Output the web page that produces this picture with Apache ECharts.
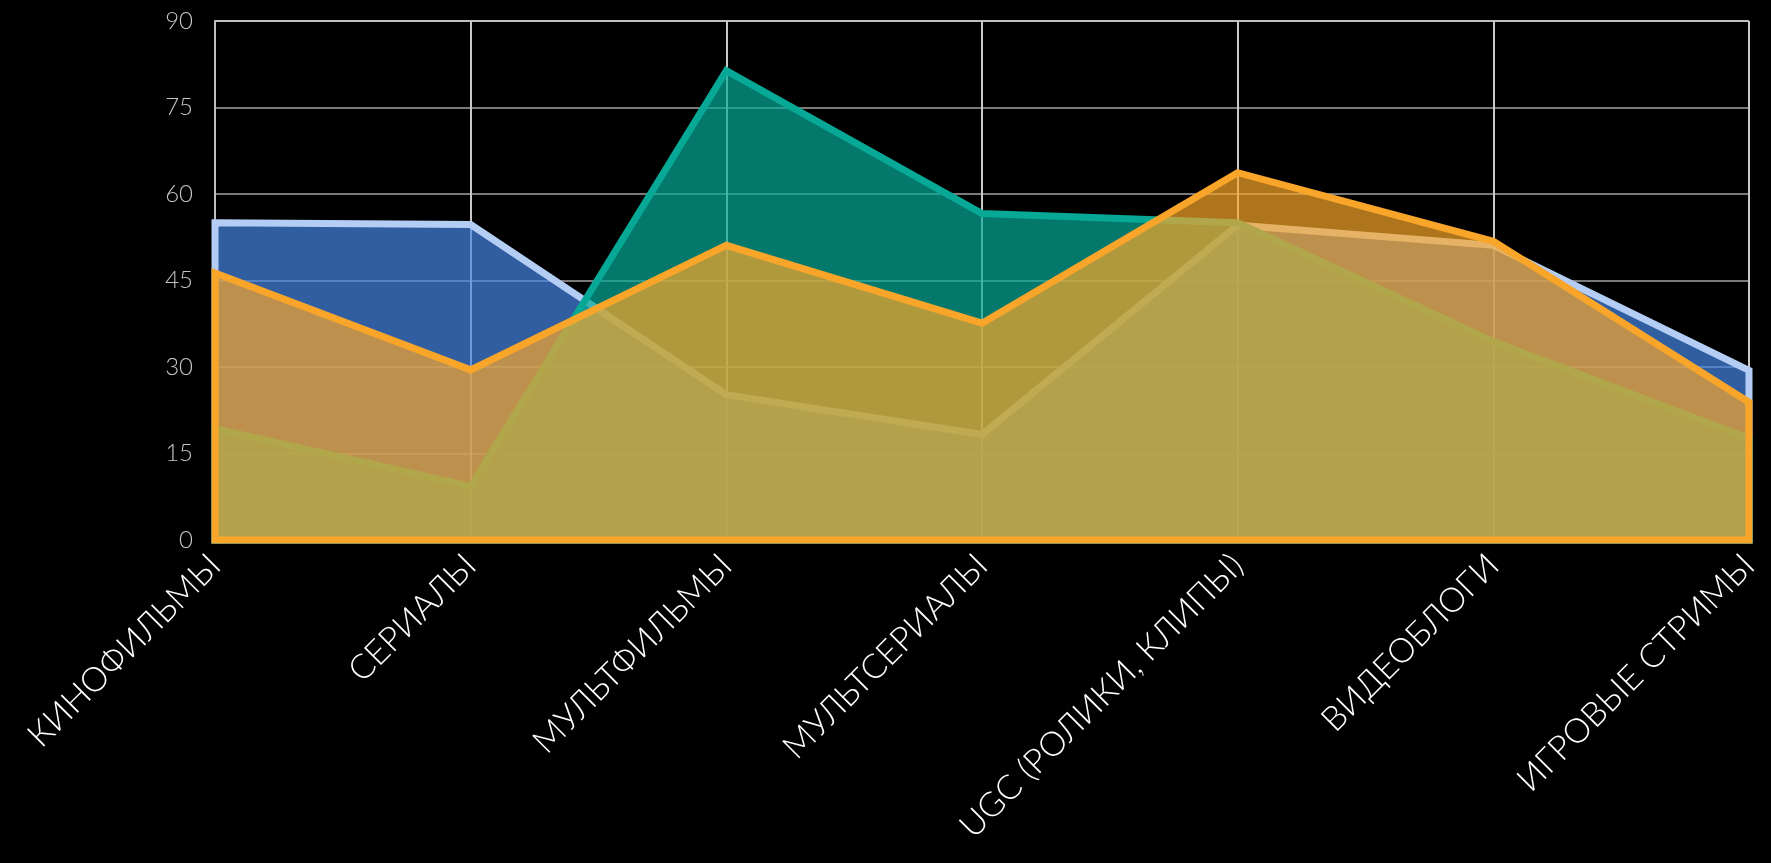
<!DOCTYPE html>
<html>
<head>
<meta charset="utf-8">
<style>
  html, body { margin: 0; padding: 0; background: #000; }
  #chart { width: 1771px; height: 863px; }
</style>
<script src="https://cdn.jsdelivr.net/npm/echarts@6/dist/echarts.min.js"></script>
</head>
<body>
<div id="chart"></div>
<script>
const categories = ['КИНОФИЛЬМЫ', 'СЕРИАЛЫ', 'МУЛЬТФИЛЬМЫ', 'МУЛЬТСЕРИАЛЫ', 'UGC (РОЛИКИ, КЛИПЫ)', 'ВИДЕОБЛОГИ', 'ИГРОВЫЕ СТРИМЫ'];
const blueValues = [55.0, 54.7, 25.2, 18.3, 54.6, 51.1, 29.4];
const tealValues = [19.3, 9.3, 81.4, 56.6, 55.0, 34.4, 17.6];
const orangeValues = [46.3, 29.5, 51.1, 37.6, 63.7, 51.8, 23.9];
const yMin = 0, yMax = 90, yStep = 15;

function areaSeries(name, values, fill, stroke) {
  return {
    type: 'custom',
    name: name,
    clip: false,
    data: values.map((v, i) => [i, v]),
    encode: { x: 0, y: 1 },
    renderItem: function (params, api) {
      if (params.dataIndex !== 0) return null;
      const pts = values.map((v, i) => api.coord([i, v]));
      pts.push(api.coord([values.length - 1, 0]));
      pts.push(api.coord([0, 0]));
      return {
        type: 'polygon',
        shape: { points: pts },
        style: { fill: fill, stroke: stroke, lineWidth: 7, lineJoin: 'miter', miterLimit: 6 }
      };
    }
  };
}

const chart = echarts.init(document.getElementById('chart'));
chart.setOption({
  backgroundColor: '#000000',
  animation: false,
  grid: { left: 215, right: 22, top: 21, bottom: 323, containLabel: false },
  xAxis: {
    type: 'category',
    data: categories,
    boundaryGap: false,
    axisLine: { show: true, lineStyle: { color: '#d9d9d9', width: 2 } },
    axisTick: { show: false },
    splitLine: { show: true, lineStyle: { color: '#c8c8c8', width: 2 } },
    axisLabel: {
      rotate: 45,
      color: '#ffffff',
      fontSize: 34,
      fontWeight: 300,
      fontFamily: 'Lato',
      margin: 20,
      interval: 0
    }
  },
  yAxis: {
    type: 'value',
    min: yMin,
    max: yMax,
    interval: yStep,
    axisLine: { show: true, lineStyle: { color: '#bfbfbf', width: 2 } },
    axisTick: { show: false },
    splitLine: { show: true, lineStyle: { color: ['#7a7a7a', '#7a7a7a', '#7a7a7a', '#7a7a7a', '#7a7a7a', '#7a7a7a', '#bfbfbf'], width: 2 } },
    axisLabel: { color: '#c4c4c4', fontSize: 24, fontWeight: 300, fontFamily: 'Lato', margin: 22 }
  },
  series: [
    areaSeries('blue', blueValues, 'rgba(68,134,229,0.7)', '#b4cdf5'),
    areaSeries('teal', tealValues, 'rgba(6,171,151,0.7)', '#07a896'),
    areaSeries('orange', orangeValues, 'rgba(250,166,42,0.7)', '#f8a52a')
  ]
});
</script>
</body>
</html>
